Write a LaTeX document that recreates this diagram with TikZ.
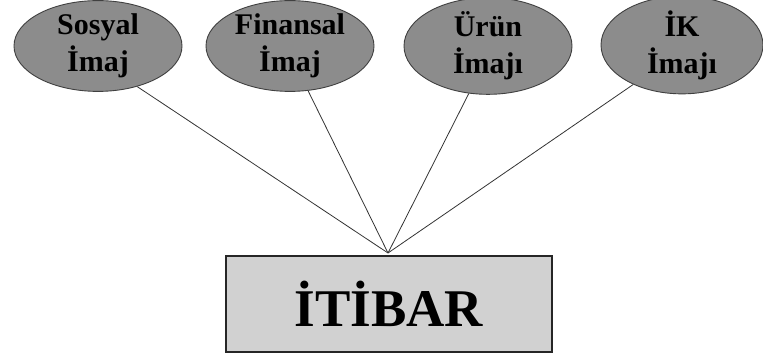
\documentclass[tikz,border=0pt]{standalone}
\usepackage{fontspec}
\setmainfont{Liberation Serif}
\usetikzlibrary{shapes.geometric}
\begin{document}
\begin{tikzpicture}[x=1pt,y=-1pt,
  facet/.style={ellipse, draw=black!75, line width=0.9pt, fill=black!45,
    minimum width=168pt, minimum height=88pt, inner sep=0pt, align=center,
    font=\fontsize{30}{37}\selectfont\bfseries},
  core/.style={rectangle, draw=black!85, line width=1.3pt, fill=black!18,
    minimum width=326pt, minimum height=96pt, inner sep=0pt,
    font=\fontsize{53}{60}\selectfont\bfseries},
  link/.style={draw=black!80, line width=0.8pt}]
  \useasboundingbox (0,0) rectangle (763,358);
  \node[facet] (sosyal) at (98,46) {Sosyal\\İmaj};
  \node[facet] (finans) at (290,46) {Finansal\\İmaj};
  \node[facet] (urun) at (488,46) {Ürün\\İmajı};
  \node[facet, minimum width=162pt] (ik) at (682,45) {İK\\İmajı};
  \node[core] (itibar) at (389,304) {İTİBAR};
  \coordinate (apex) at (388,253);
  \draw[link] (sosyal.-46) -- (apex);
  \draw[link] (finans.-68) -- (apex);
  \draw[link] (urun.-112) -- (apex);
  \draw[link] (ik.-141) -- (apex);
\end{tikzpicture}
\end{document}
